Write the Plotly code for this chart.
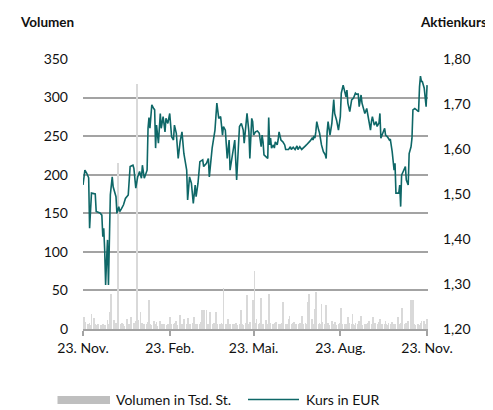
import pandas as pd
import plotly.graph_objects as go

# ---- data ----
start_date = "2022-11-23"

# price line: day offsets since start_date and price in EUR
price_days = [0, 2, 4, 6, 7, 9, 13, 14, 18, 20, 21, 22, 23, 24, 25, 26, 27, 28, 29, 31,
              32, 35, 36, 38, 39, 41, 43, 45, 48, 50, 53, 54, 56, 58, 60, 62, 63, 65, 68, 69,
              70, 71, 73, 75, 76, 77, 78, 80, 82, 83, 85, 87, 88, 90, 92, 94, 96, 97, 99, 101,
              103, 105, 107, 110, 111, 113, 115, 117, 119, 120, 122, 124, 127, 128, 131, 133, 134, 137, 139, 140,
              142, 144, 146, 148, 149, 151, 153, 155, 156, 158, 161, 163, 165, 166, 168, 170, 171, 172, 174, 176,
              177, 179, 180, 181, 183, 185, 187, 189, 190, 191, 192, 194, 196, 197, 198, 199, 200, 202, 203, 204,
              206, 207, 208, 210, 212, 214, 215, 218, 220, 221, 223, 225, 227, 228, 230, 232, 234, 236, 237, 239,
              241, 243, 244, 245, 246, 247, 248, 250, 251, 253, 255, 257, 258, 259, 260, 262, 264, 266, 267, 269,
              271, 273, 274, 276, 278, 279, 280, 281, 283, 285, 287, 289, 290, 292, 293, 295, 296, 298, 299, 301,
              303, 305, 306, 307, 309, 311, 312, 314, 315, 316, 318, 320, 321, 323, 325, 326, 328, 329, 330, 331,
              332, 334, 335, 336, 337, 338, 340, 342, 343, 345, 346, 348, 349, 350, 352, 354, 356, 357, 358, 359,
              360, 362, 364, 365]
price = [1.520, 1.553, 1.546, 1.536, 1.424, 1.502, 1.500, 1.461, 1.458, 1.453, 1.405, 1.424, 1.376, 1.298, 1.353, 1.398, 1.298, 1.398, 1.498, 1.538,
         1.516, 1.494, 1.457, 1.472, 1.461, 1.468, 1.476, 1.490, 1.498, 1.561, 1.564, 1.557, 1.513, 1.538, 1.550, 1.535, 1.564, 1.535, 1.553, 1.646,
         1.670, 1.646, 1.698, 1.690, 1.687, 1.602, 1.653, 1.613, 1.679, 1.646, 1.672, 1.638, 1.668, 1.657, 1.679, 1.627, 1.620, 1.653, 1.635, 1.579,
         1.616, 1.638, 1.590, 1.553, 1.487, 1.538, 1.524, 1.479, 1.520, 1.494, 1.524, 1.572, 1.576, 1.561, 1.568, 1.579, 1.538, 1.602, 1.638, 1.642,
         1.702, 1.668, 1.672, 1.631, 1.650, 1.642, 1.579, 1.620, 1.553, 1.579, 1.620, 1.531, 1.613, 1.650, 1.657, 1.642, 1.613, 1.638, 1.679, 1.638,
         1.579, 1.668, 1.661, 1.631, 1.638, 1.640, 1.635, 1.605, 1.631, 1.616, 1.587, 1.583, 1.579, 1.670, 1.609, 1.624, 1.602, 1.609, 1.602, 1.616,
         1.609, 1.620, 1.638, 1.620, 1.616, 1.609, 1.599, 1.599, 1.605, 1.599, 1.604, 1.599, 1.607, 1.599, 1.605, 1.599, 1.602, 1.607, 1.609, 1.613,
         1.618, 1.624, 1.620, 1.629, 1.624, 1.638, 1.661, 1.642, 1.635, 1.609, 1.594, 1.587, 1.579, 1.638, 1.661, 1.631, 1.657, 1.710, 1.679, 1.664,
         1.642, 1.672, 1.724, 1.742, 1.727, 1.716, 1.731, 1.702, 1.683, 1.709, 1.713, 1.724, 1.722, 1.722, 1.694, 1.720, 1.702, 1.687, 1.679, 1.690,
         1.668, 1.642, 1.661, 1.672, 1.653, 1.661, 1.650, 1.658, 1.679, 1.624, 1.635, 1.646, 1.631, 1.627, 1.620, 1.622, 1.594, 1.572, 1.553, 1.568,
         1.502, 1.502, 1.502, 1.520, 1.472, 1.542, 1.553, 1.561, 1.531, 1.520, 1.590, 1.605, 1.624, 1.687, 1.690, 1.687, 1.683, 1.738, 1.762, 1.750,
         1.750, 1.735, 1.694, 1.742]

# daily volume in thousand shares (business days from start_date)
volume = [5, 16, 9,
          6, 4, 8, 5, 20,
          14, 7, 5, 4, 6,
          5, 4, 6, 3, 5,
          12, 6, 5, 22, 45,
          12, 6, 8, 5, 215,
          6, 8, 5, 7, 4,
          13, 5, 6, 4, 15,
          8, 6, 10, 317, 12,
          22, 6, 8, 5, 7,
          6, 9, 38, 7, 5,
          11, 5, 6, 9, 4,
          11, 6, 7, 5, 6,
          5, 7, 4, 15, 6,
          6, 5, 8, 11, 5,
          18, 6, 5, 7, 13,
          6, 14, 5, 7, 6,
          8, 16, 5, 6, 7,
          6, 9, 25, 25, 24,
          25, 7, 6, 5, 22,
          6, 8, 5, 22, 7,
          6, 5, 8, 6, 53,
          6, 7, 13, 5, 6,
          7, 5, 6, 8, 5,
          6, 11, 25, 7, 5,
          8, 44, 6, 7, 9,
          38, 6, 75, 8, 13,
          6, 8, 40, 5, 7,
          12, 6, 7, 45, 8,
          6, 5, 7, 8, 9,
          6, 7, 5, 8, 35,
          7, 6, 5, 13, 17,
          6, 8, 9, 5, 7,
          6, 8, 5, 17, 7,
          8, 6, 7, 35, 45,
          13, 6, 7, 26, 48,
          7, 8, 6, 33, 9,
          6, 31, 7, 8, 5,
          11, 6, 7, 9, 5,
          6, 7, 8, 27, 6,
          7, 5, 6, 15, 8,
          6, 20, 7, 5, 8,
          6, 11, 7, 17, 5,
          7, 6, 5, 8, 11,
          6, 7, 15, 5, 8,
          6, 9, 13, 5, 7,
          6, 11, 7, 5, 8,
          7, 9, 6, 5, 7,
          15, 6, 7, 8, 27,
          6, 7, 8, 5, 11,
          38, 6, 38, 7, 5,
          6, 7, 5, 8, 11,
          11, 7, 6, 13]

tick_dates = ["2022-11-23", "2023-02-23", "2023-05-23", "2023-08-23", "2023-11-23"]
tick_text = ["23. Nov.", "23. Feb.", "23. Mai.", "23. Aug.", "23. Nov."]
vol_ticks = [0, 50, 100, 150, 200, 250, 300, 350]
price_ticks = [1.2, 1.3, 1.4, 1.5, 1.6, 1.7, 1.8]

series_names = ["Volumen in Tsd. St.", "Kurs in EUR"]

# ---- build ----
t0 = pd.Timestamp(start_date)
price_dates = [t0 + pd.Timedelta(days=d) for d in price_days]
vol_dates = pd.bdate_range(start_date, periods=len(volume))

FONT = "Lato, Open Sans, sans-serif"
LINE_COLOR = "#0e6767"
BAR_COLOR = "#d9d9d9"
GRID = "#a3a3a3"

fig = go.Figure()
fig.add_trace(go.Bar(x=vol_dates, y=volume, name=series_names[0],
                     marker=dict(color=BAR_COLOR, line=dict(width=0)),
                     width=86400000 * 0.85, showlegend=False, yaxis="y"))
fig.add_trace(go.Scatter(x=price_dates, y=price, name=series_names[1], mode="lines",
                         line=dict(color=LINE_COLOR, width=1.6), showlegend=False,
                         yaxis="y2"))

# the page adds an 8px body margin; the figure is sized to fit inside the window
fig.update_layout(
    width=485, height=402,
    margin=dict(l=75, r=65, t=51, b=81),
    plot_bgcolor="white", paper_bgcolor="white",
    separators=",.",
    font=dict(family=FONT, size=14, color="#111111"),
    bargap=0,
    xaxis=dict(type="date", range=[tick_dates[0], "2023-11-24"],
               tickvals=tick_dates, ticktext=tick_text,
               showgrid=False, showline=True, linecolor=GRID, linewidth=2,
               ticks="outside", ticklen=5, tickwidth=2, tickcolor=GRID,
               tickfont=dict(size=14), zeroline=False),
    yaxis=dict(range=[0, 350], tickvals=vol_ticks, showgrid=True, gridcolor=GRID,
               gridwidth=2, zeroline=False, showline=False, ticks="",
               ticklabelstandoff=14, tickfont=dict(size=14)),
    yaxis2=dict(range=[1.2, 1.8], tickvals=price_ticks, tickformat=".2f",
                overlaying="y", side="right", showgrid=False, zeroline=False,
                showline=False, ticks="", ticklabelstandoff=14, tickfont=dict(size=14)),
    showlegend=False,
)

# helpers: window pixel -> paper coordinates of the plot area
def px_x(p):
    return (p - 83) / 345.0

def px_y(p):
    return (329 - p) / 270.0

# axis titles
fig.add_annotation(text="<b>Volumen</b>", xref="paper", yref="paper", x=px_x(18), y=px_y(22),
                   xanchor="left", yanchor="middle", showarrow=False, font=dict(size=13.5))
fig.add_annotation(text="<b>Aktienkurs</b>", xref="paper", yref="paper", x=px_x(489), y=px_y(22),
                   xanchor="right", yanchor="middle", showarrow=False, font=dict(size=13.5))

# legend (drawn below the plot)
fig.add_shape(type="rect", xref="paper", yref="paper", x0=px_x(57.5), x1=px_x(110),
              y0=px_y(404), y1=px_y(396), fillcolor="#bfbfbf", line=dict(width=0))
fig.add_annotation(text=series_names[0], xref="paper", yref="paper", x=px_x(114), y=px_y(399.5),
                   xanchor="left", yanchor="middle", showarrow=False, font=dict(size=14))
fig.add_shape(type="line", xref="paper", yref="paper", x0=px_x(248), x1=px_x(299),
              y0=px_y(399.5), y1=px_y(399.5), line=dict(color=LINE_COLOR, width=1.6))
fig.add_annotation(text=series_names[1], xref="paper", yref="paper", x=px_x(304), y=px_y(399.5),
                   xanchor="left", yanchor="middle", showarrow=False, font=dict(size=14))

fig.write_html("out.html")
